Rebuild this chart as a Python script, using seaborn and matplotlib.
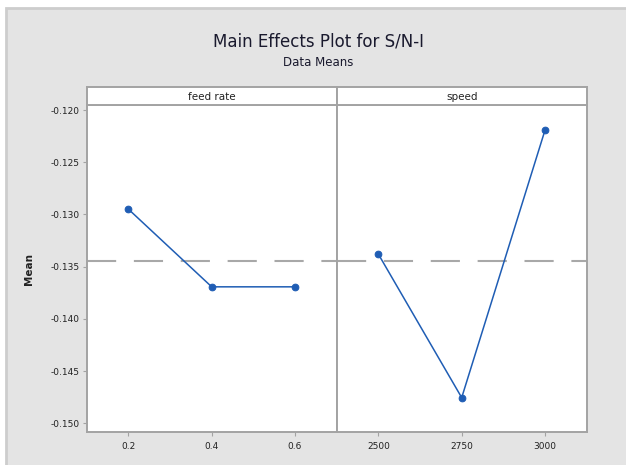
import numpy as np
import pandas as pd
import matplotlib
matplotlib.use("Agg")
import matplotlib.pyplot as plt
from matplotlib.patches import Rectangle
import seaborn as sns

# Factor levels and the mean S/N ratio at each level
feed_levels = ["0.2", "0.4", "0.6"]
feed_means = [-0.12949, -0.13693, -0.13693]
speed_levels = ["2500", "2750", "3000"]
speed_means = [-0.13380, -0.14754, -0.12192]
y_ticks = [-0.120, -0.125, -0.130, -0.135, -0.140, -0.145, -0.150]
panel_names = ["feed rate", "speed"]

grand_mean = float(np.mean(feed_means))

sns.set_theme(style="white")
plt.rcParams["font.family"] = ["DejaVu Sans"]

W, H = 626, 465
fig = plt.figure(figsize=(W / 100, H / 100), dpi=100, facecolor="white")

# grey outer frame, running off the right and bottom edges
fig.patches.append(Rectangle((6 / W, -0.1), 1.2, 1.1 - 8 / H, transform=fig.transFigure,
                             facecolor="#e4e4e4", edgecolor="#cdcdcd", linewidth=2.0,
                             zorder=-10))

left, right = 86.7 / W, 586.7 / W
bottom, top = 1 - 432 / H, 1 - 105 / H
head_top = 1 - 87 / H
pw = (right - left) / 2

blue = "#1f5db4"
spine_col = "#a3a3a3"
ylim = (-0.15083, -0.11952)

data = [
    pd.DataFrame({"level": feed_levels, "mean": feed_means}),
    pd.DataFrame({"level": speed_levels, "mean": speed_means}),
]

axes = []
for i, df in enumerate(data):
    ax = fig.add_axes([left + i * pw, bottom, pw, top - bottom])
    ax.set_facecolor("white")
    ax.axhline(grand_mean, color="#a8a8a8", lw=1.5, linestyle=(0, (14, 8.5)), zorder=1)
    sns.lineplot(data=df, x="level", y="mean", ax=ax, color=blue, lw=1.1,
                 marker="o", markersize=4.8, markeredgecolor=blue, sort=False, zorder=3)
    ax.set_xlim(-0.5, 2.5)
    ax.set_ylim(*ylim)
    ax.set_yticks(y_ticks)
    ax.set_xlabel("")
    ax.set_ylabel("")
    for s in ax.spines.values():
        s.set_color(spine_col)
        s.set_linewidth(1.4)
    ax.tick_params(axis="both", which="both", length=3, width=0.8, color=spine_col,
                   labelsize=6.5, labelcolor="#222222", pad=2)
    ax.tick_params(axis="x", bottom=True, pad=4)
    if i == 0:
        ax.tick_params(axis="y", left=True)
        ax.set_yticklabels([f"{v:.3f}".replace("\u2212", "-") for v in y_ticks])
        ax.set_ylabel("Mean", fontsize=7.5, fontweight="bold", labelpad=12, color="#222222")
    else:
        ax.tick_params(axis="y", left=False, labelleft=False)
    axes.append(ax)

    # panel header strip
    hx = fig.add_axes([left + i * pw, top, pw, head_top - top])
    hx.set_facecolor("white")
    hx.set_xticks([])
    hx.set_yticks([])
    for s in hx.spines.values():
        s.set_color(spine_col)
        s.set_linewidth(1.4)
    hx.text(0.5, 0.45, panel_names[i], ha="center", va="center", fontsize=7.5,
            color="#222222", transform=hx.transAxes)

fig.text(318 / W, 1 - 42 / H, "Main Effects Plot for S/N-I", ha="center", va="center",
         fontsize=12, color="#1a1a2e")
fig.text(318 / W, 1 - 63 / H, "Data Means", ha="center", va="center",
         fontsize=8.5, color="#1a1a2e")

fig.savefig("out.png", dpi=100, facecolor=fig.get_facecolor())
